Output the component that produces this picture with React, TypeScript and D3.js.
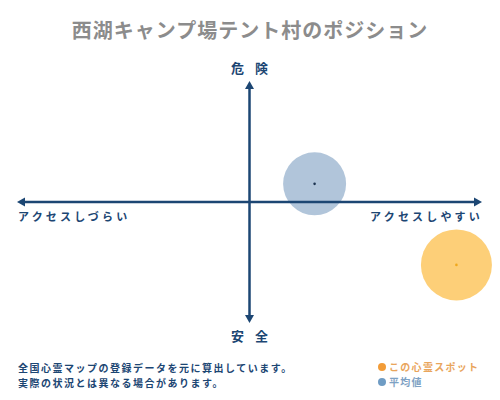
import React from "react";
import * as d3 from "d3";

const title = "西湖キャンプ場テント村のポジション";
const axisTop = "危 険";
const axisBottom = "安 全";
const axisLeft = "アクセスしづらい";
const axisRight = "アクセスしやすい";
const pointNames = ["この心霊スポット", "平均値"];
const pointX = [0.89, 0.28];
const pointY = [-0.52, 0.15];
const pointR = [35.5, 31.5];
const notes = [
  "全国心霊マップの登録データを元に算出しています。",
  "実際の状況とは異なる場合があります。",
];

const W = 500;
const H = 400;
const navy = "#1c4673";
const font = "'Noto Sans CJK JP', sans-serif";
const fills = ["#fdcf78", "#b1c5da"];
const dots = ["#f0a81c", "#1c3350"];
const legendDots = ["#f29c38", "#6f9cc4"];
const legendText = ["#e9a55c", "#7ea2c4"];

const App: React.FC = () => {
  const x = d3.scaleLinear().domain([-1, 1]).range([17, 482]);
  const y = d3.scaleLinear().domain([-1, 1]).range([323, 81]);
  const cx = x(0);
  const cy = y(0);

  return (
    <svg width={W} height={H} style={{ display: "block", margin: -8 }} fontFamily={font}>
      <rect width={W} height={H} fill="#fff" />
      <text x={W / 2} y={38} textAnchor="middle" fontSize={20} fontWeight="bold" fill="#8c8c8c" letterSpacing={1}>
        {title}
      </text>

      {pointX.map((d, i) => (
        <circle key={"c" + i} cx={x(d)} cy={y(pointY[i])} r={pointR[i]} fill={fills[i]} />
      ))}

      <g stroke={navy} strokeWidth={2.5}>
        <line x1={x(-1) + 4} x2={x(1) - 4} y1={cy} y2={cy} />
        <line x1={cx} x2={cx} y1={y(1) + 4} y2={y(-1) - 4} />
      </g>
      <g fill={navy}>
        <path d={`M${x(1)},${cy} l-8,-4.5 v9 z`} />
        <path d={`M${x(-1)},${cy} l8,-4.5 v9 z`} />
        <path d={`M${cx},${y(1)} l-4.5,8 h9 z`} />
        <path d={`M${cx},${y(-1)} l-4.5,-8 h9 z`} />
      </g>

      {pointX.map((d, i) => (
        <circle key={"d" + i} cx={x(d)} cy={y(pointY[i])} r={1.3} fill={dots[i]} />
      ))}

      <g fill={navy} fontWeight="bold">
        <text x={cx + 2} y={73} textAnchor="middle" fontSize={13} letterSpacing={4} style={{ whiteSpace: "pre" }}>{axisTop}</text>
        <text x={cx + 2} y={341} textAnchor="middle" fontSize={13} letterSpacing={4} style={{ whiteSpace: "pre" }}>{axisBottom}</text>
        <text x={18} y={221} fontSize={11} letterSpacing={3.2}>{axisLeft}</text>
        <text x={483} y={221} fontSize={11} letterSpacing={3.2} textAnchor="end">{axisRight}</text>
        {notes.map((n, i) => (
          <text key={n} x={18} y={372 + i * 15} fontSize={10} letterSpacing={1.5}>{n}</text>
        ))}
      </g>

      {pointNames.map((n, i) => (
        <g key={n} transform={`translate(382,${367 + i * 15})`}>
          <circle r={4} fill={legendDots[i]} />
          <text x={7} y={3.5} fontSize={10} fontWeight="bold" fill={legendText[i]} letterSpacing={1.3}>{n}</text>
        </g>
      ))}
    </svg>
  );
};

export default App;
